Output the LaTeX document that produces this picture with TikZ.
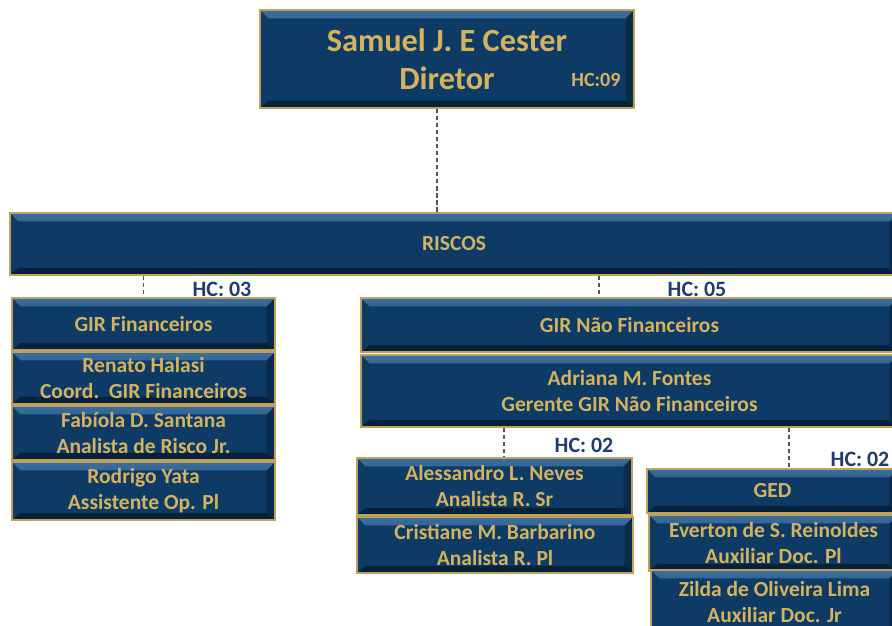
\documentclass[tikz,border=0pt]{standalone}
\usepackage{fontspec}
\setmainfont{Carlito}
\definecolor{boxblue}{HTML}{0D3B66}
\definecolor{bevlight}{HTML}{3A6E9E}
\definecolor{bevdark}{HTML}{06213C}
\definecolor{boxgold}{HTML}{BFA15A}
\definecolor{boxtext}{HTML}{D6B25E}
\definecolor{hcblue}{HTML}{1F3C6C}
\definecolor{linkgray}{HTML}{555555}

\begin{document}
\begin{tikzpicture}[
  box/.style={draw=boxgold, line width=1.4pt, fill=boxblue, text=boxtext,
    font=\bfseries\fontsize{15.3}{18.5}\selectfont, align=center, inner sep=0pt,
    path picture={
      \shade[top color=bevlight, bottom color=boxblue]
        (path picture bounding box.north west) -- (path picture bounding box.north east)
        -- ([shift={(-6pt,-6pt)}]path picture bounding box.north east)
        -- ([shift={(6pt,-6pt)}]path picture bounding box.north west) -- cycle;
      \fill[bevdark]
        (path picture bounding box.south west) -- (path picture bounding box.south east)
        -- ([shift={(-6pt,5pt)}]path picture bounding box.south east)
        -- ([shift={(6pt,5pt)}]path picture bounding box.south west) -- cycle;
      \fill[bevdark, opacity=0.6]
        (path picture bounding box.north east) -- (path picture bounding box.south east)
        -- ([shift={(-6pt,5pt)}]path picture bounding box.south east)
        -- ([shift={(-6pt,-6pt)}]path picture bounding box.north east) -- cycle;
    }},
  hc/.style={text=hcblue, font=\bfseries\fontsize{15.6}{17}\selectfont, inner sep=0pt},
  link/.style={draw=linkgray, line width=1.3pt, dash pattern=on 3pt off 2pt}]
  \useasboundingbox (0,0) rectangle (22.3,-15.65);
  \node[box, minimum width=9.35cm, minimum height=2.45cm,
    font=\bfseries\fontsize{23}{27}\selectfont] (dir) at (11.175,-1.475) {Samuel J. E Cester\\Diretor};
  \node[hc, text=boxtext, font=\bfseries\fontsize{14.3}{16}\selectfont] (hcdir) at (14.9,-2.0) {HC:09};
  \node[box, minimum width=22.2cm, minimum height=1.55cm] (riscos) at (11.35,-6.1) {RISCOS};
  \draw[link] ([xshift=-0.25cm]dir.south) -- ([xshift=-0.25cm]dir.south |- riscos.north);
  \node[box, minimum width=6.575cm, minimum height=1.3cm] (girfin) at (3.5875,-8.1) {GIR Financeiros};
  \node[box, minimum width=6.575cm, minimum height=1.3cm] (renato) at (3.5875,-9.45) {Renato Halasi\\Coord.\ \ GIR Financeiros};
  \node[box, minimum width=6.575cm, minimum height=1.35cm] (fabiola) at (3.5875,-10.825) {Fabíola D. Santana\\Analista de Risco Jr.};
  \node[box, minimum width=6.575cm, minimum height=1.45cm] (rodrigo) at (3.5875,-12.275) {Rodrigo Yata\\Assistente Op. Pl};
  \draw[link] (girfin.north |- riscos.south) -- (girfin.north);
  \node[hc] (hcfin) at (5.55,-7.225) {HC: 03};
  \node[box, minimum width=13.425cm, minimum height=1.35cm] (girnf) at (15.7375,-8.125) {GIR Não Financeiros};
  \node[box, minimum width=13.425cm, minimum height=1.8cm] (adriana) at (15.7375,-9.775) {Adriana M. Fontes\\Gerente GIR Não Financeiros};
  \draw[link] ([xshift=-0.76cm]girnf.north |- riscos.south) -- ([xshift=-0.76cm]girnf.north);
  \node[hc] (hcnf) at (17.425,-7.225) {HC: 05};
  \node[box, minimum width=6.875cm, minimum height=1.425cm] (aless) at (12.3625,-12.1625) {Alessandro L. Neves\\Analista R. Sr};
  \node[box, minimum width=6.9cm, minimum height=1.4cm] (cristiane) at (12.375,-13.625) {Cristiane M. Barbarino\\Analista R. Pl};
  \draw[link] ([xshift=0.24cm]aless.north |- adriana.south) -- ([xshift=0.24cm]aless.north);
  \node[hc] (hcrisk) at (14.6,-11.125) {HC: 02};
  \node[box, minimum width=6.275cm, minimum height=1.1cm] (ged) at (19.3125,-12.275) {GED};
  \node[box, minimum width=6.225cm, minimum height=1.4cm] (everton) at (19.3375,-13.575) {Everton de S. Reinoldes\\Auxiliar Doc. Pl};
  \node[box, minimum width=6.175cm, minimum height=1.6cm] (zilda) at (19.3625,-15.05) {Zilda de Oliveira Lima\\Auxiliar Doc. Jr};
  \draw[link] ([xshift=0.41cm]ged.north |- adriana.south) -- ([xshift=0.41cm]ged.north);
  \node[hc] (hcged) at (21.5,-11.475) {HC: 02};
\end{tikzpicture}
\end{document}
